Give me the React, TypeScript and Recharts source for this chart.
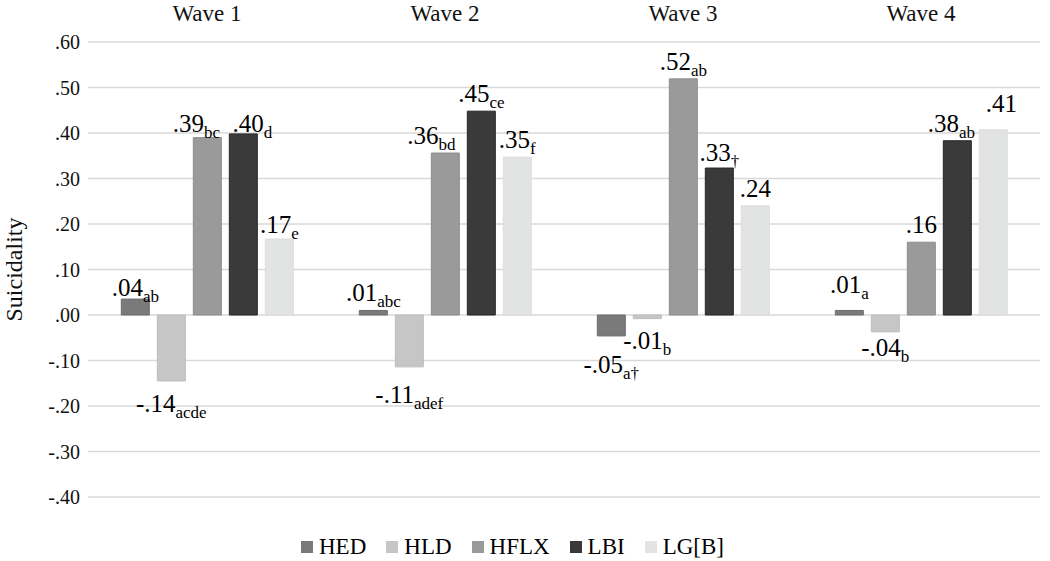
import React from 'react';
import { BarChart, Bar, XAxis, YAxis, CartesianGrid, Legend, LabelList } from 'recharts';

const WAVES = ['Wave 1', 'Wave 2', 'Wave 3', 'Wave 4'];

// bar heights
const HED = [0.035, 0.01, -0.046, 0.01];
const HLD = [-0.145, -0.114, -0.008, -0.037];
const HFLX = [0.39, 0.356, 0.519, 0.16];
const LBI = [0.398, 0.448, 0.323, 0.383];
const LGB = [0.167, 0.347, 0.24, 0.407];

// printed labels: number + subscript letters
const HED_LABELS = [['.04', 'ab'], ['.01', 'abc'], ['-.05', 'a†'], ['.01', 'a']];
const HLD_LABELS = [['-.14', 'acde'], ['-.11', 'adef'], ['-.01', 'b'], ['-.04', 'b']];
const HFLX_LABELS = [['.39', 'bc'], ['.36', 'bd'], ['.52', 'ab'], ['.16', '']];
const LBI_LABELS = [['.40', 'd'], ['.45', 'ce'], ['.33', '†'], ['.38', 'ab']];
const LGB_LABELS = [['.17', 'e'], ['.35', 'f'], ['.24', ''], ['.41', '']];

const Y_TICKS = [-0.4, -0.3, -0.2, -0.1, 0, 0.1, 0.2, 0.3, 0.4, 0.5, 0.6];

const data = WAVES.map((wave, i) => ({
  wave,
  HED: HED[i],
  HLD: HLD[i],
  HFLX: HFLX[i],
  LBI: LBI[i],
  LGB: LGB[i],
}));

const SERIES = [
  { key: 'HED', name: 'HED', fill: '#7a7a7a', stroke: '#6e6e6e', labels: HED_LABELS },
  { key: 'HLD', name: 'HLD', fill: '#c6c6c6', stroke: '#bdbdbd', labels: HLD_LABELS },
  { key: 'HFLX', name: 'HFLX', fill: '#9a9a9a', stroke: '#8e8e8e', labels: HFLX_LABELS },
  { key: 'LBI', name: 'LBI', fill: '#3a3a3a', stroke: '#262626', labels: LBI_LABELS },
  { key: 'LGB', name: 'LG[B]', fill: '#e2e3e3', stroke: '#dcdddd', labels: LGB_LABELS },
];

const FONT = 'Liberation Serif';

// hand nudges, like the moved labels in the original
const NUDGE: Record<string, [number, number]> = {
  'HED-0': [0, 6],
  'HFLX-0': [-11, 3],
  'LBI-0': [9, 7],
  'LGB-0': [0, 3],
  'HFLX-1': [-14, 0],
  'HED-2': [0, 13],
  'HLD-0': [0, 7],
  'HLD-1': [0, 12],
  'HLD-2': [0, 6],
  'LBI-2': [0, 2],
  'HED-3': [0, -8],
  'LBI-3': [-6, 0],
  'LGB-3': [8, -9],
};

const fmtTick = (v: number) => v.toFixed(2).replace('0.', '.');

const makeLabel = (key: string, labels: string[][], values: number[]) => (props: any) => {
  const vb = props.viewBox || {};
  const x = Number(props.x ?? vb.x);
  const y = Number(props.y ?? vb.y);
  const w = Number(props.width ?? vb.width);
  const h = Number(props.height ?? vb.height);
  const i = props.index;
  if (i == null || !labels[i] || isNaN(x)) return null;
  const [main, sub] = labels[i];
  const [dx, dy] = NUDGE[`${key}-${i}`] || [0, 0];
  const top = Math.min(y, y + h);
  const bottom = Math.max(y, y + h);
  const neg = values[i] < 0;
  const base = neg ? bottom + 24 : top - 9;
  return (
    <text x={x + w / 2 + dx} y={base + dy} textAnchor="middle" fontFamily={FONT} fill="#000">
      <tspan fontSize={25}>{main}</tspan>
      {sub ? (
        <tspan fontSize={17} dy={6}>
          {sub}
        </tspan>
      ) : null}
    </text>
  );
};

const LegendBox = () => (
  <div
    style={{
      display: 'flex',
      justifyContent: 'center',
      alignItems: 'center',
      fontFamily: FONT,
      fontSize: 23,
      color: '#000',
    }}
  >
    {SERIES.map((s) => (
      <div key={s.key} style={{ display: 'flex', alignItems: 'center', marginRight: 20 }}>
        <span
          style={{
            display: 'inline-block',
            width: 12,
            height: 12,
            background: s.fill,
            marginRight: 6,
          }}
        />
        <span>{s.name}</span>
      </div>
    ))}
  </div>
);

export default function App() {
  return (
    <div style={{ position: 'absolute', left: 0, top: 0, width: 1050, height: 561, background: '#fff' }}>
      <BarChart
        width={1050}
        height={561}
        data={data}
        margin={{ top: 0, right: 10, bottom: 64, left: 0 }}
        barCategoryGap="14%"
        barGap={8}
      >
        <CartesianGrid vertical={false} stroke="#d9d9d9" strokeWidth={1.5} />
        <XAxis
          dataKey="wave"
          orientation="top"
          height={42}
          axisLine={false}
          tickLine={false}
          tickSize={0}
          tickMargin={21}
          tick={{ fontSize: 23, fill: '#111', fontFamily: FONT }}
        />
        <YAxis
          domain={[-0.4, 0.6]}
          ticks={Y_TICKS}
          width={88}
          axisLine={false}
          tickLine={false}
          tickSize={0}
          tickMargin={8}
          tickFormatter={fmtTick}
          tick={{ fontSize: 20, fill: '#111', fontFamily: FONT }}
          label={{
            value: 'Suicidality',
            angle: -90,
            position: 'insideLeft',
            offset: 13,
            fontFamily: FONT,
            fontSize: 24,
            fill: '#111',
            textAnchor: 'middle',
          }}
        />
        <Legend
          layout="horizontal"
          align="center"
          verticalAlign="middle"
          wrapperStyle={{ top: 534, left: 0, width: 1045 }}
          content={() => <LegendBox />}
        />
        {SERIES.map((s) => (
          <Bar
            key={s.key}
            dataKey={s.key}
            name={s.name}
            fill={s.fill}
            stroke={s.stroke}
            strokeWidth={1}
            isAnimationActive={false}
          >
            <LabelList
              dataKey={s.key}
              content={makeLabel(s.key, s.labels, data.map((d: any) => d[s.key]))}
            />
          </Bar>
        ))}
      </BarChart>
    </div>
  );
}
